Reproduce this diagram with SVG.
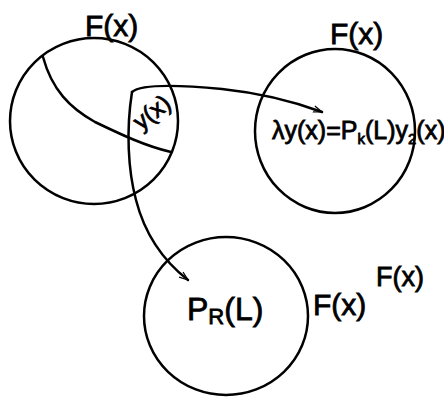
<svg xmlns="http://www.w3.org/2000/svg" width="444" height="397" viewBox="0 0 444 397">
<style>
.c{fill:none;stroke:#000;stroke-width:2.5}
.l{fill:none;stroke:#000;stroke-width:2.5;stroke-linecap:round}
.t{font-family:"Liberation Sans",Arial,sans-serif;fill:#000;stroke:#000;stroke-width:0.8}
</style>
<defs>
<marker id="ah" viewBox="0 0 12 10" refX="11" refY="5" markerWidth="10" markerHeight="8" orient="auto" markerUnits="userSpaceOnUse">
<path d="M0,1 L11,5 L0,9" fill="none" stroke="#000" stroke-width="1.5"/>
</marker>
</defs>
<rect width="444" height="397" fill="#fff"/>
<g id="n1">
<ellipse class="c" cx="94" cy="121" rx="84" ry="83"/>
<path class="l" d="M43,57 C52,90 70,108 95,122 C120,134 145,146 171,152"/>
<text class="t" x="85" y="36" font-size="30">F(x)</text>
<text class="t" x="0" y="0" font-size="24" transform="translate(141,131) rotate(-38)">y(x)</text>
</g>
<g id="n2">
<ellipse class="c" cx="335" cy="131" rx="80" ry="82"/>
<text class="t" x="330" y="44" font-size="30">F(x)</text>
<text class="t" x="272" y="139" font-size="25">λy(x)=P<tspan font-size="15" dy="5">k</tspan><tspan dy="-5">(L)y</tspan><tspan font-size="15" dy="5">2</tspan><tspan dy="-5">(x)</tspan></text>
</g>
<g id="n3">
<ellipse class="c" cx="226" cy="316" rx="82" ry="79"/>
<text class="t" x="187" y="320" font-size="32">P<tspan font-size="22" dy="4">R</tspan><tspan dy="-4">(L)</tspan></text>
<text class="t" x="313" y="315" font-size="30">F(x)</text>
<text class="t" x="376" y="286" font-size="27">F(x)</text>
</g>
<g id="connectors">
<path class="l" d="M132,92 C140,85 170,84 222,89 C260,93 295,102 322,112" marker-end="url(#ah)"/>
<path class="l" d="M132,92 C126,130 128,170 136,200 C145,235 165,262 188,280" marker-end="url(#ah)"/>
</g>
</svg>
